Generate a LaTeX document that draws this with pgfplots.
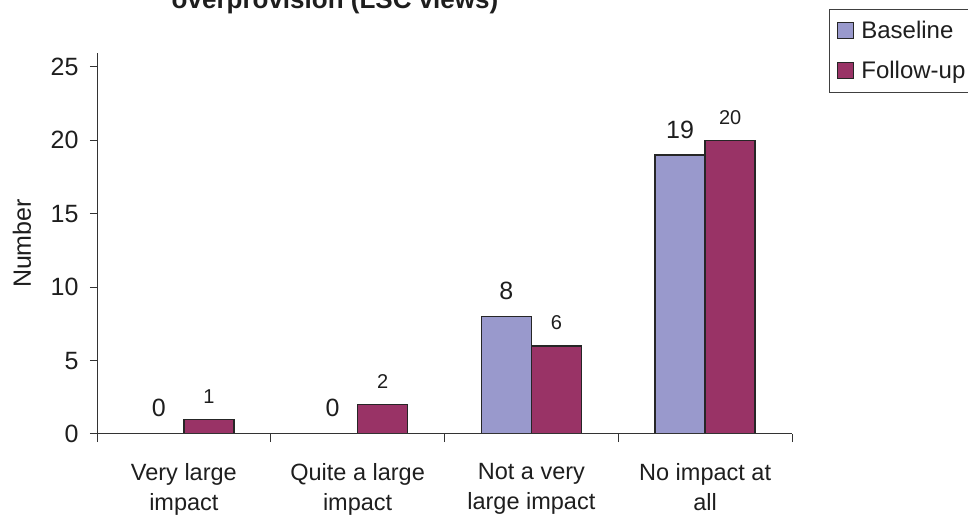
\documentclass[border=0pt]{standalone}
\usepackage{pgfplots}
\pgfplotsset{compat=1.18}
\usepackage{fontspec}
\setmainfont{Liberation Sans}
\definecolor{basecol}{RGB}{153,153,204}
\definecolor{followcol}{RGB}{153,51,102}
\definecolor{txt}{RGB}{30,30,30}

\pgfplotstableread{
x baseline followup
0 0  1
1 0  2
2 8  6
3 19 20
}\impact

\begin{document}
\begin{tikzpicture}
\path[use as bounding box] (0,0) rectangle (968pt,516pt);
\clip (0,0) rectangle (968pt,516pt);
\begin{axis}[
  at={(97pt,82pt)}, anchor=south west,
  scale only axis, width=695pt, height=381pt,
  ybar, bar width=0.2878,
  xmin=-0.5, xmax=3.5, ymin=0, ymax=25.95,
  axis x line=bottom, axis y line=left,
  axis line style={-, black!80, line width=1pt},
  axis on top,
  tick align=outside,
  /pgf/number format/assume math mode=true,
  xtick={0,1,2,3},
  xticklabels={{Very large\\impact},{Quite a large\\impact},{Not a very\\large impact},{No impact at\\all}},
  major x tick style={draw=none},
  minor xtick={-0.5,0.5,1.5,2.5,3.5},
  minor x tick style={black!80, line width=1pt},
  minor tick length=8pt,
  ytick={0,5,...,25},
  major tick length=7pt,
  major y tick style={black!80, line width=1pt},
  xticklabel style={align=center, font=\fontsize{23.5}{30}\selectfont, text=txt, yshift=-19pt},
  yticklabel style={font=\fontsize{25}{29}\selectfont, text=txt, xshift=-8pt},
  ylabel={Number},
  ylabel style={at={(axis description cs:-0.108,0.5)}, anchor=center, font=\fontsize{25}{29}\selectfont, text=txt},
  legend style={at={(axis description cs:1.0532,1.1155)}, anchor=north west,
    draw=black!75, line width=0.8pt, fill=white,
    font=\fontsize{24}{28}\selectfont, text=txt,
    inner xsep=8pt, inner ysep=10pt, row sep=17pt, column sep=5pt,
    legend cell align=left},
  legend image code/.code={\draw[#1, line width=1pt] (0pt,-7.5pt) rectangle (16pt,8pt);},
]
\addplot[fill=basecol, draw=black!85, line width=1.3pt, bar shift=-0.1439,
  nodes near coords,
  nodes near coords style={font=\fontsize{25}{30}\selectfont, text=txt, anchor=base, yshift=17pt}]
  table[x=x, y=baseline] {\impact};
\addplot[fill=followcol, draw=black!85, line width=1.3pt, bar shift=0.1439,
  nodes near coords,
  nodes near coords style={font=\fontsize{20}{24}\selectfont, text=txt, anchor=base, yshift=16pt}]
  table[x=x, y=followup] {\impact};
\legend{Baseline, Follow-up}
\end{axis}
\node[anchor=base, font=\bfseries\fontsize{26}{31}\selectfont, text=txt] at (335pt,507pt) {overprovision (LSC views)};
\end{tikzpicture}
\end{document}
